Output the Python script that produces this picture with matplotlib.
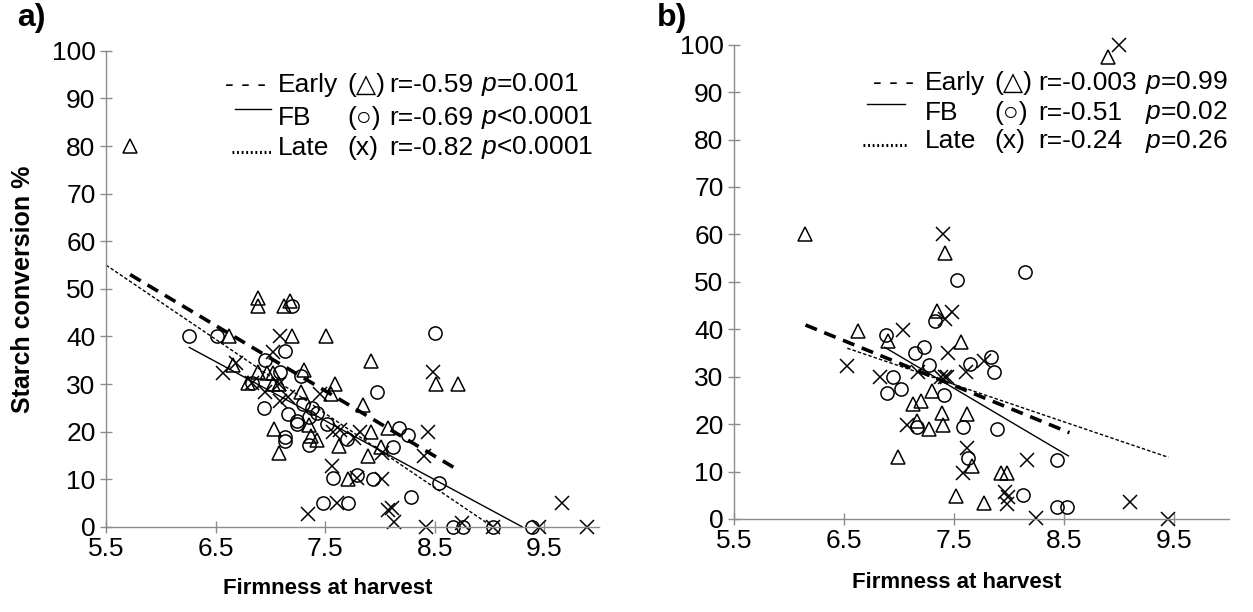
import numpy as np
import matplotlib.pyplot as plt
from matplotlib.lines import Line2D

plt.rcParams['font.family'] = ['Liberation Sans', 'DejaVu Sans']
plt.rcParams['mathtext.fontset'] = 'custom'
plt.rcParams['mathtext.rm'] = 'Liberation Sans'
plt.rcParams['mathtext.it'] = 'Liberation Sans:italic'

# a) firmness (x) vs starch conversion (y) per harvest
early_a_x = [5.72, 6.89, 6.89, 7.12, 7.18, 6.62, 7.20, 7.51, 7.92, 8.51, 8.71, 6.66, 6.89, 6.97,
             7.02, 7.31, 6.80, 7.02, 7.08, 7.59, 7.55, 7.28, 7.85, 7.35, 7.92, 8.07, 8.01, 7.89,
             7.03, 7.08, 7.37, 7.43, 7.63, 7.71]
early_a_y = [80, 48, 46.5, 46.5, 47.5, 40, 40, 40, 34.8, 30, 30, 34, 32.5, 32.3,
             32.3, 33, 30.2, 30, 30, 30, 28, 28.3, 25.6, 21.4, 20, 20.8, 16.8, 15,
             20.5, 15.5, 19, 18.2, 17, 10]
fb_a_x = [7.20, 6.26, 6.51, 8.50, 7.13, 6.95, 7.97, 7.09, 7.28, 6.83, 6.94, 7.30, 7.38, 7.43,
          7.16, 7.24, 7.24, 7.35, 7.52, 7.70, 8.17, 8.26, 8.12, 7.13, 7.13, 7.35, 7.57, 7.79,
          7.94, 8.54, 8.28, 7.48, 7.71, 8.67, 8.76, 9.03, 9.39]
fb_a_y = [46.5, 40, 40, 40.7, 37, 35, 28.3, 32.5, 31.6, 30.2, 25, 25.8, 25, 24,
          23.7, 22.2, 21.6, 23, 21.6, 18.4, 20.8, 19.3, 16.8, 18.8, 18, 17.2, 10.3, 11,
          10, 9.2, 6.3, 5, 5, 0, 0, 0, 0]
late_a_x = [7.09, 8.48, 6.57, 6.69, 6.83, 7.08, 7.45, 6.95, 7.16, 7.09, 7.02, 7.57, 7.64, 7.76,
            7.82, 8.44, 8.02, 8.40, 7.56, 7.79, 8.02, 7.61, 7.34, 8.07, 8.11, 8.13, 8.42, 8.75,
            9.03, 9.45, 9.66, 9.89]
late_a_y = [40, 32.5, 32.3, 34.4, 30.2, 30, 28, 28.3, 27.3, 26.4, 36.7, 20, 20.3, 18.7,
            20, 20, 15.5, 15, 12.8, 10.3, 10, 5, 2.7, 3.6, 4, 1, 0, 0.8,
            0, 0, 5, 0]

# b)
early_b_x = [6.15, 7.42, 8.90, 7.35, 6.63, 6.90, 7.56, 7.30, 7.13, 7.20, 7.39, 7.62, 7.16, 7.27,
             7.40, 6.99, 7.66, 7.93, 7.98, 7.52, 7.77]
early_b_y = [60, 56, 97.5, 43.9, 39.6, 37.5, 37.3, 26.9, 24.2, 24.8, 22.4, 22.2, 20.6, 19,
             19.9, 13.1, 11.2, 9.7, 9.7, 4.9, 3.4]
fb_b_x = [7.53, 8.15, 7.33, 6.88, 7.15, 7.23, 7.27, 7.65, 7.84, 7.86, 6.95, 6.89, 7.02, 7.41,
          7.16, 7.58, 7.89, 7.63, 8.44, 8.13, 8.44, 8.53]
fb_b_y = [50.4, 52, 41.7, 38.8, 35, 36.2, 32.4, 32.6, 34.1, 30.9, 29.9, 26.5, 27.5, 26.1,
          19.3, 19.3, 18.9, 12.9, 12.5, 5.1, 2.5, 2.5]
late_b_x = [7.40, 9.00, 7.48, 7.42, 7.04, 7.45, 7.61, 6.53, 6.83, 7.38, 7.42, 7.44, 7.17, 7.77,
            7.07, 7.62, 8.16, 7.58, 7.96, 7.99, 7.98, 8.25, 9.10, 9.45]
late_b_y = [60, 100, 43.6, 42.2, 39.8, 35, 30.9, 32.2, 29.9, 29.9, 29.9, 30, 31, 33.3,
            19.9, 15, 12.5, 9.7, 5.7, 4.7, 3.2, 0.2, 3.6, 0]

# trend line end points
trend_a = {'early': ([5.72, 8.71], [53, 12]),
           'fb': ([6.26, 9.30], [37.7, 0]),
           'late': ([5.5, 9.03], [55, 0])}
trend_b = {'early': ([6.15, 8.55], [40.9, 18.2]),
           'fb': ([6.87, 8.54], [36.2, 13.3]),
           'late': ([6.53, 9.45], [36, 13])}

stats_a = [('Early', '(\u25b3)', '-0.59', '=0.001'),
           ('FB', '(\u25cb)', '-0.69', '<0.0001'),
           ('Late', '(x)', '-0.82', '<0.0001')]
stats_b = [('Early', '(\u25b3)', '-0.003', '=0.99'),
           ('FB', '(\u25cb)', '-0.51', '=0.02'),
           ('Late', '(x)', '-0.24', '=0.26')]

xticks = [5.5, 6.5, 7.5, 8.5, 9.5]
yticks = np.arange(0, 101, 10)
FS = 19

fig = plt.figure(figsize=(12.53, 6.12), dpi=100)
ax_a = fig.add_axes([0.0846, 0.139, 0.3935, 0.778])
ax_b = fig.add_axes([0.5858, 0.152, 0.395, 0.775])

styles = {'early': dict(color='black', lw=2.6, dashes=(3.4, 2.2)),
          'fb': dict(color='black', lw=1.0),
          'late': dict(color='black', lw=1.0, dashes=(2.5, 1.5))}
mk = dict(linestyle='none', mfc='none', mec='black', mew=1.1, clip_on=False)


def draw(ax, ex, ey, fx, fy, lx, ly, trend, stats, cols, rows_y, sample_x, xlab_y):
    ax.plot(ex, ey, marker='^', ms=9.5, **mk)
    ax.plot(fx, fy, marker='o', ms=9.5, **mk)
    ax.plot(lx, ly, marker='x', ms=9.5, **mk)
    for k in ['early', 'fb', 'late']:
        ax.plot(trend[k][0], trend[k][1], **styles[k])
    ax.set_xlim(5.5, 10.0)
    ax.set_ylim(0, 100)
    ax.set_xticks(xticks)
    ax.set_xticklabels([str(t) for t in xticks])
    ax.set_yticks(yticks)
    for s in ['top', 'right']:
        ax.spines[s].set_visible(False)
    for s in ['left', 'bottom']:
        ax.spines[s].set_color('#8c8c8c')
        ax.spines[s].set_linewidth(1.0)
    ax.tick_params(direction='inout', length=9, width=1.0, color='#8c8c8c',
                   labelsize=FS, pad=3)
    ax.set_xlabel('Firmness at harvest', fontsize=16, fontweight='bold')
    ax.xaxis.set_label_coords(0.45, xlab_y)
    ax.patch.set_visible(False)

    # legend block drawn as text rows
    x0, x1, x2, x3, xp = cols
    for (name, sym, r, p), yy in zip(stats, rows_y):
        ax.text(x1, yy, name, transform=ax.transAxes, fontsize=FS, va='center')
        ax.text(x2, yy, sym, transform=ax.transAxes, fontsize=FS, va='center')
        ax.text(x3, yy, 'r=' + r, transform=ax.transAxes, fontsize=FS, va='center')
        ax.text(xp, yy, r'$p$' + p, transform=ax.transAxes, fontsize=FS, va='center')
    ax.text(x0, rows_y[0], '- - -', transform=ax.transAxes, fontsize=FS, va='center')
    ax.add_line(Line2D(sample_x[0], [rows_y[1] + 0.018] * 2,
                       transform=ax.transAxes, color='black', lw=1.0))
    ax.add_line(Line2D(sample_x[1], [rows_y[2] - 0.008] * 2,
                       transform=ax.transAxes, color='black', lw=2.2,
                       dashes=(0.6, 0.9)))


draw(ax_a, early_a_x, early_a_y, fb_a_x, fb_a_y, late_a_x, late_a_y, trend_a, stats_a,
     (0.241, 0.349, 0.489, 0.574, 0.76), [0.929, 0.859, 0.796],
     ([0.262, 0.335], [0.255, 0.335]), -0.108)
draw(ax_b, early_b_x, early_b_y, fb_b_x, fb_b_y, late_b_x, late_b_y, trend_b, stats_b,
     (0.28, 0.386, 0.527, 0.615, 0.83), [0.92, 0.857, 0.796],
     ([0.269, 0.345], [0.261, 0.35]), -0.112)

ax_a.set_ylabel('Starch conversion %', fontsize=18, fontweight='bold')
ax_a.yaxis.set_label_coords(-0.145, 0.5)

fig.text(0.014, 0.995, 'a)', fontsize=23, fontweight='bold', va='top')
fig.text(0.524, 0.995, 'b)', fontsize=23, fontweight='bold', va='top')

fig.savefig('out.png', dpi=100, facecolor='white')
